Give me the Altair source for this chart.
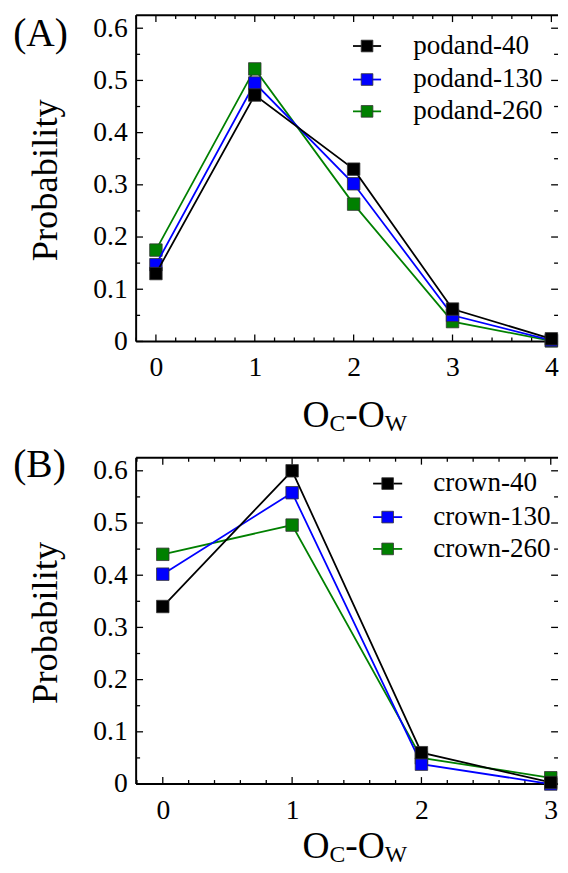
import altair as alt
import pandas as pd

# ---------------- data ----------------
x_a = [0, 1, 2, 3, 4]
podand_40 = [0.130, 0.472, 0.330, 0.062, 0.005]
podand_130 = [0.147, 0.495, 0.302, 0.050, 0.002]
podand_260 = [0.175, 0.522, 0.263, 0.038, 0.001]
labels_a = ["podand-40", "podand-130", "podand-260"]

x_b = [0, 1, 2, 3]
crown_40 = [0.340, 0.600, 0.060, 0.003]
crown_130 = [0.402, 0.558, 0.038, 0.000]
crown_260 = [0.440, 0.496, 0.050, 0.012]
labels_b = ["crown-40", "crown-130", "crown-260"]

colors = ["#000000", "#0000ff", "#008000"]

y_major = [0.0, 0.1, 0.2, 0.3, 0.4, 0.5, 0.6]
y_minor = [0.05, 0.15, 0.25, 0.35, 0.45, 0.55]
x_major_a = [0, 1, 2, 3, 4]
x_minor_a = [round(-0.2 + 0.2 * k, 2) for k in range(22) if k % 5 != 1]
x_major_b = [0, 1, 2, 3]
x_minor_b = [round(-0.2 + 0.2 * k, 2) for k in range(17) if k % 5 != 1]

title_parts = ["O", "C", "-O", "W"]

# ---------------- style ----------------
FONT = "Liberation Serif"
W, H = 429, 331
LEFT = 129.3
MAJ, MIN = 7, 4


def panel(xs, series, labels, xdom, xmaj, xmin, letter, letter_y, leg,
          title_y, cell_top, cell_bottom):
    xscale = alt.Scale(domain=xdom, nice=False, zero=False)
    yscale = alt.Scale(domain=[0, 0.625], nice=False, zero=False)
    cscale = alt.Scale(domain=labels, range=colors)
    xaxis = alt.Axis(
        values=xmaj, format="d", title=None, ticks=False, domain=False,
        grid=False, labelFont=FONT, labelFontSize=28, labelColor="black",
        labelPadding=13)
    yaxis = alt.Axis(
        values=y_major, title="Probability", ticks=False, domain=False,
        grid=False, labelFont=FONT, labelFontSize=28, labelColor="black",
        labelPadding=9,
        labelExpr="datum.value == 0 ? '0' : format(datum.value, '.1f')",
        titleFont=FONT, titleFontSize=37, titleFontWeight="normal",
        titleColor="black", titleAngle=270, titleAlign="center",
        titleBaseline="alphabetic", titleX=-81, titleY=H / 2 + 1.5)

    def X(f):
        return alt.X(f, scale=xscale, axis=xaxis)

    def Y(f):
        return alt.Y(f, scale=yscale, axis=yaxis)

    one = pd.DataFrame({"k": [0]})
    layers = []

    # invisible box that fixes the cell's layout bounds
    layers.append(alt.Chart(one).mark_rect(opacity=0).encode(
        x=alt.value(-LEFT), x2=alt.value(W), y=alt.value(cell_top),
        y2=alt.value(cell_bottom)))

    # frame (left, top, bottom); the right edge lies outside the picture
    fr = alt.Chart(one).mark_rule(color="black", strokeWidth=2)
    layers.append(fr.encode(x=alt.value(0), y=alt.value(0), y2=alt.value(H)))
    layers.append(fr.encode(x=alt.value(0), x2=alt.value(W - 1), y=alt.value(0)))
    layers.append(fr.encode(x=alt.value(0), x2=alt.value(W - 1), y=alt.value(H)))

    # inward tick marks on all four sides
    def xticks(vals, ln):
        df = pd.DataFrame({"t": vals})
        b = alt.Chart(df).mark_rule(color="black", strokeWidth=1.3)
        return [
            b.encode(x=X("t:Q"), y=alt.value(H), y2=alt.value(H - ln)),
            b.encode(x=X("t:Q"), y=alt.value(0), y2=alt.value(ln)),
        ]

    def yticks(vals, ln):
        df = pd.DataFrame({"t": vals})
        b = alt.Chart(df).mark_rule(color="black", strokeWidth=1.3)
        return [
            b.encode(y=Y("t:Q"), x=alt.value(0), x2=alt.value(ln)),
            b.encode(y=Y("t:Q"), x=alt.value(W - 1), x2=alt.value(W - 1 - ln)),
        ]

    layers += xticks(xmaj, MAJ) + xticks(xmin, MIN)
    layers += yticks(y_major, MAJ) + yticks(y_minor, MIN)

    # series: green first, black last (on top)
    for lab, vals in reversed(list(zip(labels, series))):
        df = pd.DataFrame({"x": xs, "y": vals, "series": lab})
        layers.append(alt.Chart(df).mark_line(strokeWidth=1.8).encode(
            x=X("x:Q"), y=Y("y:Q"),
            color=alt.Color("series:N", scale=cscale, legend=None)))
        layers.append(
            alt.Chart(df).mark_square(size=160, opacity=1, stroke="#333333",
                                       strokeWidth=0.8).encode(
                x=X("x:Q"), y=Y("y:Q"),
                fill=alt.Fill("series:N", scale=cscale, legend=None)))

    # legend drawn as marks
    lx0, lx1, tx, rows = leg
    for lab, ry in zip(labels, rows):
        df = pd.DataFrame({"series": [lab]})
        col = alt.Color("series:N", scale=cscale, legend=None)
        layers.append(alt.Chart(df).mark_rule(strokeWidth=1.8).encode(
            x=alt.value(lx0), x2=alt.value(lx1), y=alt.value(ry), color=col))
        layers.append(alt.Chart(df).mark_square(size=140, opacity=1, stroke="#333333",
                                                 strokeWidth=0.8).encode(
            x=alt.value((lx0 + lx1) / 2), y=alt.value(ry),
            fill=alt.Fill("series:N", scale=cscale, legend=None)))
        layers.append(alt.Chart(df).mark_text(
            align="left", baseline="middle", font=FONT, fontSize=27.5,
            color="black").encode(x=alt.value(tx), y=alt.value(ry), text="series:N"))

    # panel letter
    ldf = pd.DataFrame({"s": [letter]})
    layers.append(alt.Chart(ldf).mark_text(
        align="left", baseline="alphabetic", font=FONT, fontSize=40,
        color="black").encode(x=alt.value(-124.7), y=alt.value(letter_y), text="s:N"))

    # x title with subscripts: O_C - O_W
    big, small = 38, 24
    xs_pos = [168.8, 196.2, 212.2, 252.3]
    sizes = [big, small, big, small]
    ys_pos = [title_y, title_y + 3.5, title_y, title_y + 3.5]
    for part, px, py, fs in zip(title_parts, xs_pos, ys_pos, sizes):
        tdf = pd.DataFrame({"s": [part]})
        layers.append(alt.Chart(tdf).mark_text(
            align="left", baseline="alphabetic", font=FONT, fontSize=fs,
            color="black").encode(x=alt.value(px), y=alt.value(py), text="s:N"))

    return alt.layer(*layers).properties(width=W, height=H)


panel_a = panel(x_a, [podand_40, podand_130, podand_260], labels_a,
                [-0.2, -0.2 + W / 100.3], x_major_a, x_minor_a, "(A)", 31,
                (220.0, 248.5, 281.1, [31.3, 65.3, 97.6]),
                H + 87, -1, H + 105)
panel_b = panel(x_b, [crown_40, crown_130, crown_260], labels_b,
                [-0.206, -0.206 + W / 131.2], x_major_b, x_minor_b, "(B)", 19.5,
                (240.4, 269.9, 301.4, [26.2, 60.2, 92.5]),
                H + 75.5, -12.5, H + 83.5)

chart = alt.vconcat(panel_a, panel_b, spacing=0).resolve_scale(
    color="independent", fill="independent"
).properties(
    padding=0,
    background="white",
).configure_view(stroke=None)

chart.save("out.html", embed_options={"renderer": "svg", "actions": False})
